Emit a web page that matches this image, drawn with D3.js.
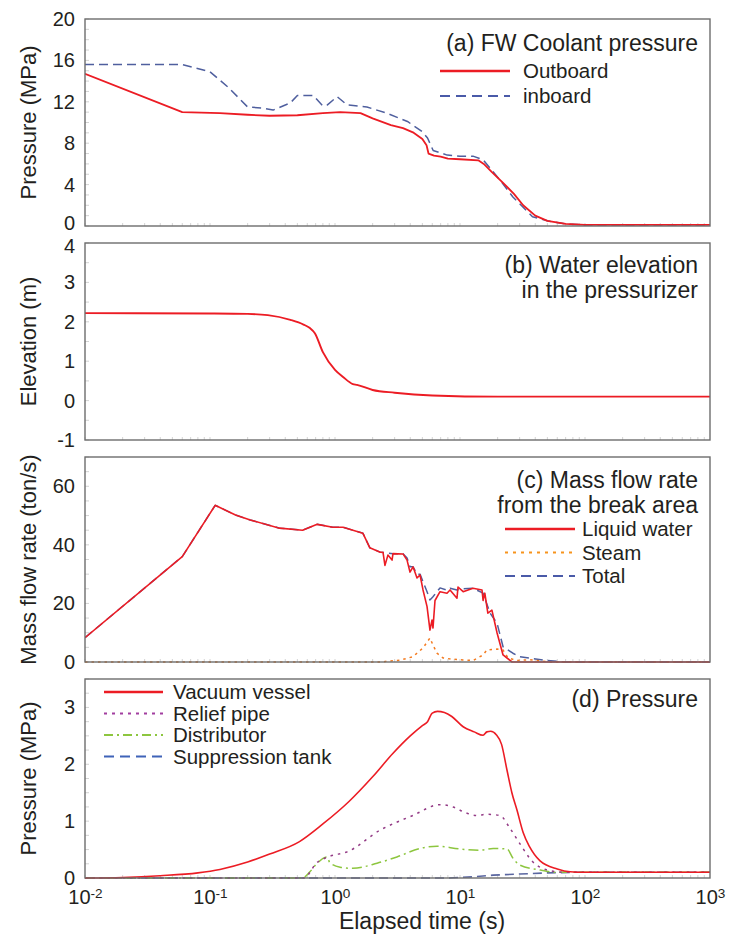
<!DOCTYPE html>
<html><head><meta charset="utf-8">
<script src="https://cdn.jsdelivr.net/npm/d3@7"></script>
<style>body{margin:0;background:#fff}svg{display:block}text{font-family:"Liberation Sans",Arial,Helvetica,sans-serif;fill:#231f20}</style>
</head><body><svg id="c" width="731" height="937"></svg>
<script>
// ---- data (t in seconds, value) ----
const xTicks = [1e-2, 1e-1, 1e0, 1e1, 1e2, 1e3];
const xExponents = ["-2", "-1", "0", "1", "2", "3"];

const aTicks = [0, 4, 8, 12, 16, 20];
const outboard = [[0.01,14.7],[0.06,11.0],[0.12,10.9],[0.2,10.75],[0.3,10.65],[0.5,10.7],[0.8,10.9],[1.1,11.0],[1.6,10.9],[2.0,10.4],[2.8,9.75],[3.5,9.45],[4.2,9.05],[5.0,8.4],[5.4,7.8],[5.6,7.0],[6.2,6.8],[7,6.7],[8,6.5],[10,6.45],[14,6.35],[15.5,6.0],[18,5.2],[22,4.2],[27,3.1],[32,2.0],[40,1.0],[50,0.5],[70,0.2],[100,0.1],[1000,0.1]];
const inboard = [[0.01,15.6],[0.06,15.6],[0.1,14.9],[0.14,13.4],[0.2,11.5],[0.26,11.4],[0.32,11.2],[0.44,11.9],[0.5,12.6],[0.67,12.6],[0.8,11.6],[0.87,11.7],[1.04,12.5],[1.25,11.7],[1.8,11.5],[2.6,10.9],[3.8,10.1],[5.0,9.1],[5.5,8.5],[6.1,7.3],[7.9,6.85],[10,6.75],[12.7,6.75],[15.3,6.4],[21,4.4],[26.5,2.8],[38,0.9],[50,0.5],[70,0.2],[100,0.1],[1000,0.1]];

const bTicks = [-1, 0, 1, 2, 3, 4];
const elevation = [[0.01,2.22],[0.1,2.21],[0.2,2.2],[0.29,2.17],[0.44,2.05],[0.56,1.93],[0.63,1.84],[0.69,1.71],[0.8,1.23],[1.0,0.78],[1.16,0.6],[1.39,0.42],[1.5,0.4],[2.0,0.27],[3.0,0.2],[6,0.13],[20,0.1],[1000,0.1]];

const cTicks = [0, 20, 40, 60];
const liquid = [[0.01,8.3],[0.06,36],[0.11,53.5],[0.16,50.2],[0.21,48.5],[0.36,45.7],[0.55,45],[0.72,47],[0.96,46],[1.16,46],[1.67,44],[1.9,39],[2.3,37.5],[2.42,37.5],[2.51,33],[2.65,36.5],[2.86,34.8],[2.91,37],[3.5,36.9],[3.77,34.8],[3.98,30.7],[4.21,32.5],[4.53,28.7],[4.79,29.7],[5.06,24.6],[5.45,18.9],[5.75,10.9],[5.97,14.3],[6.08,11.6],[6.31,21],[6.92,24],[7.87,23.5],[8.32,24.6],[9.46,21.8],[9.64,25.6],[10.6,24],[12.7,25.2],[15.0,24.6],[15.3,21],[15.8,23.5],[16.7,16.7],[18,17.7],[19.8,9.9],[22.1,2.4],[26.1,0],[1000,0]];
const steam = [[0.01,0],[2.4,0],[2.6,0.3],[3.3,0.6],[4.2,1.8],[5.06,4.8],[5.75,8.2],[6.08,5.8],[6.55,3],[7.31,1.4],[8.5,1.0],[10.6,0.7],[12.7,0.5],[15.3,2.4],[16.4,4.1],[19.8,4.4],[22.1,4.1],[24.2,1.4],[28.6,0.5],[36,0.8],[52,0],[1000,0]];
const total = [[0.01,8.3],[0.06,36],[0.11,53.5],[0.16,50.2],[0.21,48.5],[0.36,45.7],[0.55,45],[0.72,47],[0.96,46],[1.16,46],[1.67,44],[1.9,39],[2.3,37.5],[2.91,37],[3.5,37],[3.77,35.5],[3.98,32.5],[4.21,32.5],[4.53,30],[4.79,30],[5.06,27.4],[5.45,24],[5.75,21.2],[6.08,22.3],[6.92,25.3],[7.87,24.5],[8.32,25.2],[9.46,24.6],[10.6,25],[12.7,25.2],[15.3,23.5],[17.4,16.7],[19.8,13.2],[22.1,5.2],[26.5,3],[30,1.8],[50,0.5],[70,0],[1000,0]];

const dTicks = [0, 1, 2, 3];
const vessel = [[0.01,0],[0.02,0.01],[0.04,0.04],[0.08,0.09],[0.12,0.15],[0.2,0.28],[0.3,0.42],[0.52,0.64],[0.8,0.95],[1.3,1.35],[2.0,1.78],[2.9,2.19],[4.0,2.5],[5.0,2.68],[5.5,2.75],[6.0,2.9],[6.6,2.93],[7.5,2.91],[8.6,2.84],[10.6,2.66],[13,2.57],[15.3,2.51],[16.4,2.57],[17.6,2.58],[19.5,2.52],[21.5,2.35],[23.8,1.89],[26,1.5],[28.6,1.19],[32,0.8],[36,0.55],[43.7,0.3],[60,0.16],[76,0.11],[100,0.1],[1000,0.1]];
const relief = [[0.01,0],[0.58,0],[0.63,0.1],[0.7,0.25],[0.8,0.33],[0.9,0.38],[1.25,0.46],[2.29,0.84],[4.2,1.1],[6.9,1.29],[8.8,1.25],[11,1.15],[13.7,1.1],[16.4,1.12],[20.9,1.1],[25,0.88],[30,0.61],[38,0.29],[50,0.14],[70,0.1],[1000,0.1]];
const distributor = [[0.01,0],[0.55,0],[0.63,0.11],[0.72,0.26],[0.86,0.37],[0.91,0.27],[1.1,0.19],[1.39,0.17],[2.17,0.26],[3.13,0.37],[4.79,0.52],[6.55,0.56],[10,0.51],[14.5,0.49],[18.4,0.52],[23.8,0.51],[26.5,0.35],[30,0.23],[44,0.14],[60,0.1],[1000,0.1]];
const suppression = [[0.01,0],[8,0],[12.7,0.02],[18.4,0.05],[30,0.07],[50,0.09],[80,0.1],[1000,0.1]];

// ---- drawing ----
const svg = d3.select("#c");
const L = 85, R = 710;
const x = d3.scaleLog().domain([1e-2, 1e3]).range([L, R]);
const RED = "#ec1c24", NAVY = "#4f5f9e";
const FONT = "Liberation Sans, Arial, sans-serif";

function panel(o) {
  const y = d3.scaleLinear().domain(o.domain).range([o.bottom, o.top]);
  const g = svg.append("g");
  const yMinor = d3.range(o.domain[0], o.domain[1] + 1e-9, o.minor);
  g.selectAll(".ym").data(yMinor).join("line")
    .attr("x1", L).attr("x2", L + 4).attr("y1", d => y(d)).attr("y2", d => y(d))
    .attr("stroke", "#c8c8c8").attr("stroke-width", 0.8);
  const xMinor = [];
  for (let e = -2; e < 3; e++) for (let k = 1; k < 10; k++) xMinor.push(k * Math.pow(10, e));
  g.selectAll(".xm").data(xMinor).join("line")
    .attr("x1", d => x(d)).attr("x2", d => x(d)).attr("y1", o.bottom).attr("y2", o.bottom - 3)
    .attr("stroke", "#c8c8c8").attr("stroke-width", 0.8);
  const ya = d3.axisLeft(y).tickValues(o.ticks).tickSize(0).tickPadding(10).tickFormat(d => String(d));
  const yg = g.append("g").attr("transform", `translate(${L},0)`).call(ya);
  yg.select(".domain").remove();
  yg.selectAll("text").attr("font-size", 20).style("fill", "#231f20").attr("font-family", FONT)
    .attr("dy", d => {
      if (o.nudgeBottom && d === o.domain[0]) return "0.18em";
      if (o.nudgeTop && d === o.domain[1]) return "0.45em";
      return "0.32em";
    });
  g.append("text").attr("transform", `translate(36,${(o.top + o.bottom) / 2}) rotate(-90)`)
    .attr("text-anchor", "middle").attr("font-size", 22).text(o.ylabel);
  const clipId = "clip" + o.id;
  svg.append("clipPath").attr("id", clipId).append("rect")
    .attr("x", L).attr("y", o.top).attr("width", R - L).attr("height", o.bottom - o.top + 2);
  const sg = g.append("g").attr("clip-path", `url(#${clipId})`);
  o.series.forEach(s => {
    const line = d3.line().x(d => x(d[0])).y(d => y(d[1])).curve(s.smooth ? d3.curveMonotoneX : d3.curveLinear);
    sg.append("path").datum(s.data).attr("d", line).attr("fill", "none")
      .attr("stroke", s.color).attr("stroke-width", s.width || 1.6)
      .attr("stroke-dasharray", s.dash || null).attr("stroke-linejoin", "round");
  });
  g.append("rect").attr("x", L).attr("y", o.top).attr("width", R - L).attr("height", o.bottom - o.top)
    .attr("fill", "none").attr("stroke", "#6d6d6d").attr("stroke-width", 1.4);
  o.title.forEach((t, i) => {
    g.append("text").attr("x", 698).attr("y", o.titleY + i * 25).attr("text-anchor", "end")
      .attr("font-size", 23).text(t);
  });
  (o.legend || []).forEach((lg, i) => {
    const yy = o.legY + i * o.legStep;
    g.append("line").attr("x1", o.legX1).attr("x2", o.legX2).attr("y1", yy).attr("y2", yy)
      .attr("stroke", lg.color).attr("stroke-width", lg.lw || 2.4).attr("stroke-dasharray", lg.dash || null);
    g.append("text").attr("x", o.legTx).attr("y", yy).attr("dy", "0.36em").attr("font-size", 20.5).text(lg.name);
  });
  return {g, y};
}

panel({id: "a", top: 19, bottom: 226, domain: [0, 20], ticks: aTicks, minor: 1, ylabel: "Pressure (MPa)", nudgeBottom: true,
  series: [
    {data: inboard, color: NAVY, dash: "9,5", width: 1.5},
    {data: outboard, color: RED, width: 1.8}
  ],
  title: ["(a) FW Coolant pressure"], titleY: 51,
  legend: [{name: "Outboard", color: RED}, {name: "inboard", color: "#4a5aa8", dash: "10,6", lw: 2}],
  legX1: 440, legX2: 510, legTx: 523, legY: 71, legStep: 25});

panel({id: "b", top: 243, bottom: 440, domain: [-1, 4], ticks: bTicks, minor: 0.5, ylabel: "Elevation (m)", nudgeTop: true,
  series: [{data: elevation, color: RED, width: 1.9, smooth: true}],
  title: ["(b) Water elevation", "in the pressurizer"], titleY: 273});

panel({id: "c", top: 457, bottom: 662, domain: [0, 70], ticks: cTicks, minor: 5, ylabel: "Mass flow rate (ton/s)",
  series: [
    {data: total, color: NAVY, dash: "9,5", width: 1.5},
    {data: steam, color: "#f47b20", dash: "2.5,4", width: 1.5},
    {data: liquid, color: RED, width: 1.6}
  ],
  title: ["(c) Mass flow rate", "from the break area"], titleY: 488,
  legend: [{name: "Liquid water", color: RED}, {name: "Steam", color: "#f7941d", dash: "3,5", lw: 2},
           {name: "Total", color: "#4a5aa8", dash: "10,6", lw: 2}],
  legX1: 505, legX2: 575, legTx: 582, legY: 529, legStep: 23.5});

panel({id: "d", top: 679, bottom: 878, domain: [0, 3.5], ticks: dTicks, minor: 0.25, ylabel: "Pressure (MPa)",
  series: [
    {data: suppression, color: "#5a66a0", dash: "9,5", width: 1.6},
    {data: distributor, color: "#8dc63f", dash: "10,4,2,4", width: 1.5, smooth: true},
    {data: relief, color: "#943b86", dash: "2.5,5", width: 1.5, smooth: true},
    {data: vessel, color: RED, width: 1.6, smooth: true}
  ],
  title: ["(d) Pressure"], titleY: 707,
  legend: [{name: "Vacuum vessel", color: RED}, {name: "Relief pipe", color: "#a23ea0", dash: "3,5", lw: 2},
           {name: "Distributor", color: "#8dc63f", dash: "9,4,2,4", lw: 2}, {name: "Suppression tank", color: "#3f63b8", dash: "10,6", lw: 2}],
  legX1: 104, legX2: 163, legTx: 173, legY: 692, legStep: 21.5});

const xa = d3.axisBottom(x).tickValues(xTicks).tickSize(0).tickPadding(12).tickFormat(() => "");
const xg = svg.append("g").attr("transform", `translate(0,878)`).call(xa);
xg.select(".domain").remove();
xg.selectAll(".tick text").each(function(d, i) {
  const t = d3.select(this).attr("font-size", 20).style("fill", "#231f20").attr("font-family", FONT);
  t.append("tspan").text("10");
  t.append("tspan").attr("dy", "-0.45em").attr("font-size", "0.68em").text(xExponents[i]);
});
svg.append("text").attr("x", 422).attr("y", 929).attr("text-anchor", "middle").attr("font-size", 23).text("Elapsed time (s)");
</script></body></html>
